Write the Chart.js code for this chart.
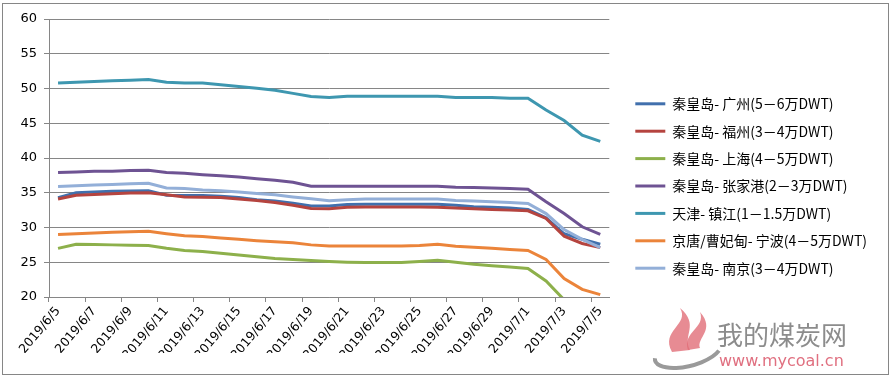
<!DOCTYPE html>
<html><head><meta charset="utf-8">
<script src="https://cdn.jsdelivr.net/npm/chart.js@4/dist/chart.umd.min.js"></script>
<style>html,body{margin:0;padding:0;background:#fff;}</style>
</head><body>
<canvas id="c" width="893" height="379"></canvas>
<script>
const dates = ['2019/6/5','2019/6/6','2019/6/7','2019/6/8','2019/6/9','2019/6/10','2019/6/11','2019/6/12','2019/6/13','2019/6/14','2019/6/15','2019/6/16','2019/6/17','2019/6/18','2019/6/19','2019/6/20','2019/6/21','2019/6/22','2019/6/23','2019/6/24','2019/6/25','2019/6/26','2019/6/27','2019/6/28','2019/6/29','2019/6/30','2019/7/1','2019/7/2','2019/7/3','2019/7/4','2019/7/5'];
const seriesNames = ['秦皇岛- 广州(5－6万DWT)','秦皇岛- 福州(3－4万DWT)','秦皇岛- 上海(4－5万DWT)','秦皇岛- 张家港(2－3万DWT)','天津- 镇江(1－1.5万DWT)','京唐/曹妃甸- 宁波(4－5万DWT)','秦皇岛- 南京(3－4万DWT)'];
const qhdGuangzhou = [34.3,35.0,35.1,35.2,35.25,35.3,34.65,34.6,34.6,34.5,34.3,34.0,33.8,33.5,33.1,33.1,33.3,33.35,33.35,33.35,33.35,33.35,33.2,33.0,32.9,32.8,32.6,31.4,29.1,28.3,27.6];
const qhdFuzhou = [34.1,34.65,34.75,34.85,34.95,35.0,34.7,34.4,34.35,34.3,34.1,33.9,33.6,33.2,32.75,32.7,32.9,32.95,32.95,32.95,32.95,32.9,32.8,32.7,32.6,32.5,32.4,31.3,28.75,27.7,27.1];
const qhdShanghai = [27.0,27.6,27.55,27.5,27.45,27.4,27.0,26.7,26.55,26.3,26.05,25.8,25.55,25.4,25.25,25.1,25.0,24.95,24.95,24.95,25.1,25.3,25.0,24.7,24.5,24.3,24.1,22.3,19.6,null,null];
const qhdZhangjiagang = [37.9,38.0,38.1,38.1,38.2,38.25,37.9,37.8,37.6,37.45,37.25,37.0,36.8,36.5,35.95,35.95,35.95,35.95,35.95,35.95,35.95,35.95,35.8,35.75,35.7,35.6,35.5,33.7,32.0,30.1,29.0];
const tjZhenjiang = [50.8,50.9,51.0,51.1,51.2,51.3,50.9,50.8,50.8,50.55,50.3,50.05,49.75,49.3,48.85,48.7,48.9,48.9,48.9,48.9,48.9,48.9,48.7,48.7,48.7,48.6,48.6,46.9,45.4,43.3,42.4];
const jtNingbo = [29.0,29.1,29.2,29.3,29.4,29.45,29.1,28.8,28.7,28.5,28.3,28.1,27.95,27.8,27.5,27.35,27.35,27.35,27.35,27.35,27.4,27.6,27.3,27.15,27.0,26.85,26.7,25.4,22.65,21.1,20.35];
const qhdNanjing = [35.9,36.0,36.1,36.2,36.3,36.35,35.7,35.6,35.4,35.3,35.1,34.9,34.7,34.4,34.15,33.85,34.0,34.1,34.1,34.1,34.1,34.1,33.9,33.8,33.7,33.6,33.45,32.0,29.7,28.3,27.1];
const seriesColors = ['#4170AD','#B5443F','#8DB04B','#6E5393','#3E97B0','#EB843A','#93AFD8'];

const allSeries = [qhdGuangzhou,qhdFuzhou,qhdShanghai,qhdZhangjiagang,tjZhenjiang,jtNingbo,qhdNanjing];
const datasets = allSeries.map((d,i)=>({
  label: seriesNames[i], data: d,
  borderColor: seriesColors[i], backgroundColor: seriesColors[i],
  borderWidth: 3, pointRadius: 0, tension: 0, fill: false,
  order: allSeries.length - i
}));

const decor = {
  id:'decor',
  afterDraw(chart){
    const ctx = chart.ctx;
    ctx.save();
    ctx.strokeStyle = '#9a9a9a'; ctx.lineWidth = 4;
    ctx.beginPath(); ctx.ellipse(688,352,34,14,-0.25,Math.PI*0.15,Math.PI*1.05); ctx.stroke();
    ctx.fillStyle = 'rgba(225,110,120,0.8)';
    ctx.beginPath(); ctx.moveTo(672,352); ctx.bezierCurveTo(660,330,690,325,680,308); ctx.bezierCurveTo(700,325,682,335,690,350); ctx.closePath(); ctx.fill();
    ctx.beginPath(); ctx.moveTo(688,350); ctx.bezierCurveTo(682,332,706,328,700,312); ctx.bezierCurveTo(716,330,696,338,700,348); ctx.closePath(); ctx.fill();
    ctx.fillStyle = '#8c8c8c';
    ctx.font = '26px "Noto Sans CJK SC"';
    ctx.textBaseline = 'alphabetic';
    ctx.fillText('我的煤炭网', 717, 345);
    ctx.fillStyle = '#E07080';
    ctx.font = '16px "DejaVu Sans"';
    ctx.fillText('www.mycoal.cn', 719, 366);
    ctx.strokeStyle = '#868686'; ctx.lineWidth = 1;
    ctx.strokeRect(2.5,3.5,886,371);
    ctx.restore();
  }
};

new Chart(document.getElementById('c'), {
  type:'line',
  data:{labels: dates, datasets},
  plugins:[decor],
  options:{
    responsive:false, animation:false, devicePixelRatio:1,
    layout:{padding:{left:0,right:16,top:19,bottom:26}},
    plugins:{
      tooltip:{enabled:false},
      legend:{position:'right', align:'center', maxWidth:320,
        labels:{boxWidth:30, boxHeight:3, padding:13.4, color:'#000',
          font:{family:'"Noto Sans CJK SC"', size:14},
          sort:(a,b)=>a.datasetIndex-b.datasetIndex,
          generateLabels:(chart)=>Chart.defaults.plugins.legend.labels.generateLabels(chart).map(it=>Object.assign(it,{lineWidth:0, fillStyle:it.strokeStyle}))
        }}
    },
    scales:{
      x:{offset:true,
        grid:{offset:true, drawOnChartArea:false, drawTicks:true, tickLength:5,
          color:(c)=>c.index%2===0?'#868686':'rgba(0,0,0,0)'},
        border:{color:'#868686'},
        ticks:{autoSkip:false, maxRotation:50, minRotation:50, padding:2, color:'#000',
          font:{family:'DejaVu Sans', size:12.5},
          callback:function(v,i){return i%2===0?this.getLabelForValue(v):'';}},
        afterFit:(s)=>{s.height=56;}
      },
      y:{min:20,max:60,
        ticks:{stepSize:5, padding:7, color:'#000', font:{family:'DejaVu Sans', size:13}},
        grid:{color:'#868686', tickLength:5},
        border:{color:'#868686'},
        afterFit:(s)=>{s.width=49;}
      },
      yR:{position:'right', display:true,
        grid:{display:false, drawTicks:false}, border:{display:false}, ticks:{display:false},
        afterFit:(s)=>{s.width=12.6;}
      }
    }
  }
});
</script>
</body></html>
